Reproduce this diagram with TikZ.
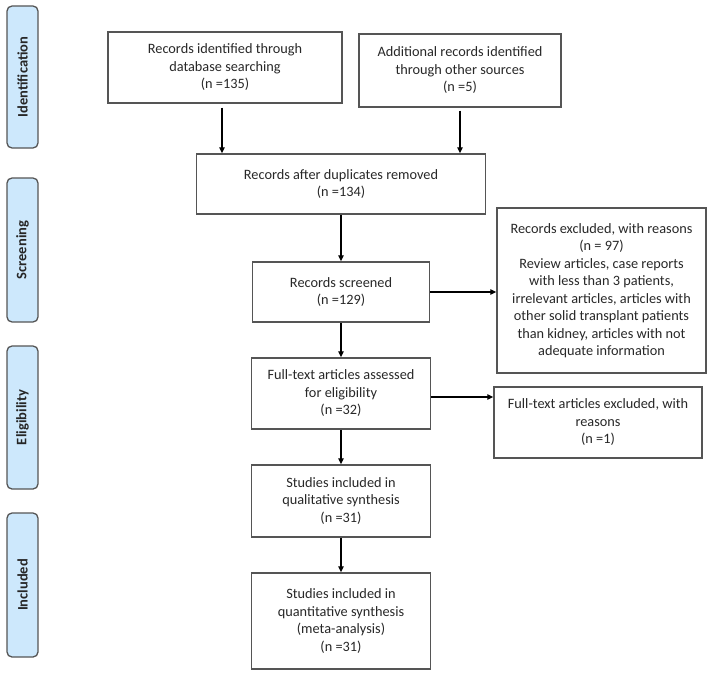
\documentclass[tikz,border=0pt]{standalone}
\usepackage{fontspec}
\setmainfont{Carlito}
\usepackage{tikz}
\usetikzlibrary{arrows.meta,calc}
\definecolor{phaseblue}{RGB}{205,232,252}
\definecolor{boxgray}{RGB}{85,85,85}
\definecolor{txtgray}{RGB}{40,40,40}

\begin{document}
\begin{tikzpicture}[x=1pt,y=-1pt,
  flowbox/.style={draw=boxgray,line width=1.5pt,fill=white,align=center,
    text=txtgray,inner sep=2pt,font=\fontsize{14.3}{17.5}\selectfont},
  phase/.style={draw=boxgray,line width=1.3pt,fill=phaseblue,
    rounded corners=5pt,rotate=90,minimum height=31pt,inner sep=0pt,
    font=\fontsize{14.5}{16}\selectfont\bfseries,text=black!85},
  flowarrow/.style={-{Triangle[length=6pt,width=5.5pt]},line width=1.4pt,black}]
\useasboundingbox (0,0) rectangle (709,674);

% phases
\node[phase,minimum width=142pt] (ident) at (22.5,77) {Identification};
\node[phase,minimum width=144pt] (screen) at (22.5,250) {Screening};
\node[phase,minimum width=143pt] (elig) at (22.5,417.5) {Eligibility};
\node[phase,minimum width=144pt] (incl) at (22.5,585) {Included};

% boxes
\node[flowbox,minimum width=234pt,minimum height=71pt] (dbrec) at (225,67.5)
  {Records identified through\\database searching\\(n =135)};
\node[flowbox,minimum width=202pt,minimum height=73pt] (otherrec) at (460,70.5)
  {Additional records identified\\through other sources\\(n =5)};
\node[flowbox,minimum width=289pt,minimum height=60pt] (dedup) at (341,184)
  {Records after duplicates removed\\(n =134)};
\node[flowbox,minimum width=177pt,minimum height=60pt] (screened) at (341,292)
  {Records screened\\(n =129)};
\node[flowbox,minimum width=209pt,minimum height=165pt] (recexcl) at (601.5,290.5)
  {Records excluded, with reasons\\(n = 97)\\Review articles, case reports\\with less than 3 patients,\\irrelevant articles, articles with\\other solid transplant patients\\than kidney, articles with not\\adequate information};
\node[flowbox,minimum width=179pt,minimum height=71pt] (fulltext) at (341,393.5)
  {Full-text articles assessed\\for eligibility\\(n =32)};
\node[flowbox,minimum width=208pt,minimum height=71pt] (ftexcl) at (598,422.5)
  {Full-text articles excluded, with\\reasons\\(n =1)};
\node[flowbox,minimum width=179pt,minimum height=72pt] (qual) at (341,501)
  {Studies included in\\qualitative synthesis\\(n =31)};
\node[flowbox,minimum width=179pt,minimum height=96pt] (quant) at (341,621)
  {Studies included in\\quantitative synthesis\\(meta-analysis)\\(n =31)};

% arrows
\coordinate (dbout) at ($(dbrec.south)+(-3,4)$);
\coordinate (otherout) at ($(otherrec.south)+(0,3)$);
\coordinate (ftout) at ($(fulltext.east)+(0,3.5)$);
\draw[flowarrow] (dbout) -- (dbout |- dedup.north);
\draw[flowarrow] (otherout) -- (otherout |- dedup.north);
\draw[flowarrow] (dedup.south) -- (screened.north);
\draw[flowarrow] (screened.east) -- (screened.east -| recexcl.west);
\draw[flowarrow] (screened.south) -- (fulltext.north);
\draw[flowarrow] (ftout) -- (ftout -| ftexcl.west);
\draw[flowarrow] (fulltext.south) -- (qual.north);
\draw[flowarrow] (qual.south) -- (quant.north);
\end{tikzpicture}
\end{document}
